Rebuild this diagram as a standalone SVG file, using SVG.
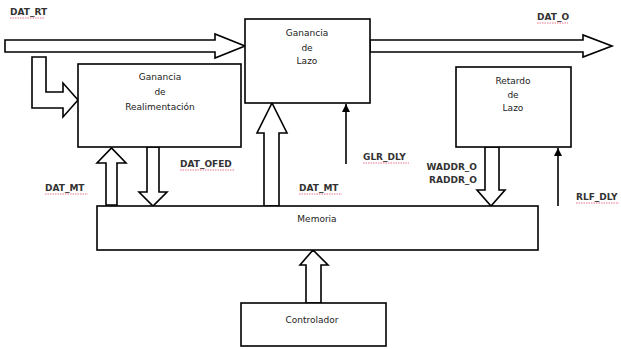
<svg xmlns="http://www.w3.org/2000/svg" width="621" height="349" viewBox="0 0 621 349">
<defs>
<style>
.box{fill:#fff;stroke:#000;stroke-width:1.6}
.bus{fill:#fff;stroke:#000;stroke-width:1.6;stroke-linejoin:miter}
.wire{fill:none;stroke:#000;stroke-width:1.6}
.t{font-family:"DejaVu Sans",sans-serif;font-size:9px;fill:#222;text-anchor:middle}
.lbl{font-family:"DejaVu Sans",sans-serif;font-size:9px;font-weight:bold;fill:#333}
.sq{stroke:#e05070;stroke-width:0.8;fill:none;stroke-dasharray:1.5 1}
</style>
<marker id="ah" markerWidth="8" markerHeight="8" refX="8" refY="4" orient="auto" markerUnits="userSpaceOnUse" viewBox="0 0 8 8">
<path d="M0,0 L8,4 L0,8 Z" fill="#000"/>
</marker>
</defs>
<rect width="621" height="349" fill="#fff"/>

<g id="connectors">
<polygon class="bus" points="5,40 215,40 215,34 245,46 215,58 215,52 5,52"/>
<polygon class="bus" points="370,40 583,40 583,35 612,46 583,57 583,52 370,52"/>
<polygon class="bus" points="32,57 46,57 46,92 63,92 63,83 78,100 63,117 63,108 32,108"/>
<polygon class="bus" points="106,205 106,163 97,163 111.5,148 126,163 117,163 117,205"/>
<polygon class="bus" points="147,147 159,147 159,192 167,192 153,206 139,192 147,192"/>
<polygon class="bus" points="264,206 264,133 257,133 272,103 287,133 279,133 279,206"/>
<polygon class="bus" points="485,147 499,147 499,190 505,190 491,206 477,190 485,190"/>
<polygon class="bus" points="306,303 306,265 300,265 313,250 328,265 321,265 321,303"/>
<line class="wire" x1="346" y1="164" x2="346" y2="104" marker-end="url(#ah)"/>
<line class="wire" x1="558" y1="206" x2="558" y2="148" marker-end="url(#ah)"/>
</g>

<g id="ganancia-realimentacion">
<rect class="box" x="78" y="64" width="163" height="83"/>
<text class="t" x="160" y="80">Ganancia</text>
<text class="t" x="160" y="95">de</text>
<text class="t" x="160" y="110">Realimentación</text>
</g>

<g id="ganancia-lazo">
<rect class="box" x="245" y="19" width="125" height="84"/>
<text class="t" x="307" y="36">Ganancia</text>
<text class="t" x="307" y="51">de</text>
<text class="t" x="307" y="64">Lazo</text>
</g>

<g id="retardo-lazo">
<rect class="box" x="456" y="67" width="115" height="80"/>
<text class="t" x="513" y="84">Retardo</text>
<text class="t" x="513" y="98">de</text>
<text class="t" x="513" y="111">Lazo</text>
</g>

<g id="memoria">
<rect class="box" x="97" y="206" width="441" height="44"/>
<text class="t" x="317" y="222">Memoria</text>
</g>

<g id="controlador">
<rect class="box" x="241" y="303" width="145" height="43"/>
<text class="t" x="312" y="323">Controlador</text>
</g>

<g id="labels">
<text class="lbl" x="10" y="15">DAT_RT</text>
<line class="sq" x1="10" y1="18" x2="45" y2="18"/>
<text class="lbl" x="537" y="20">DAT_O</text>
<line class="sq" x1="537" y1="23" x2="568" y2="23"/>
<text class="lbl" x="180" y="167">DAT_OFED</text>
<line class="sq" x1="180" y1="170" x2="234" y2="170"/>
<text class="lbl" x="45" y="191">DAT_MT</text>
<line class="sq" x1="45" y1="194" x2="88" y2="194"/>
<text class="lbl" x="299" y="191">DAT_MT</text>
<line class="sq" x1="299" y1="194" x2="342" y2="194"/>
<text class="lbl" x="363" y="160">GLR_DLY</text>
<line class="sq" x1="363" y1="163" x2="409" y2="163"/>
<text class="lbl" x="477" y="170" text-anchor="end">WADDR_O</text>
<text class="lbl" x="477" y="183" text-anchor="end">RADDR_O</text>
<text class="lbl" x="576" y="200">RLF_DLY</text>
<line class="sq" x1="576" y1="203" x2="619" y2="203"/>
</g>
</svg>
